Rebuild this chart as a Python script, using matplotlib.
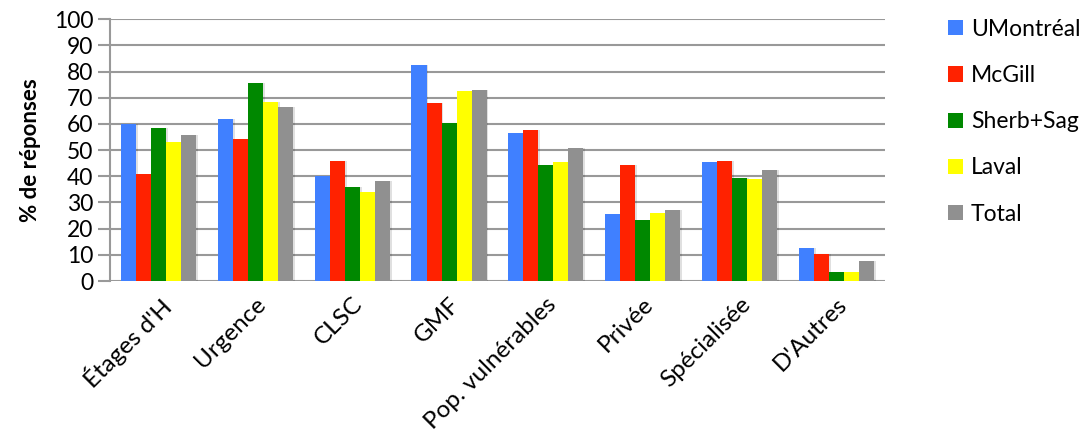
import matplotlib.pyplot as plt
import numpy as np

# Catégories et séries (% de réponses)
categories = ["Étages d'H", "Urgence", "CLSC", "GMF", "Pop. vulnérables",
              "Privée", "Spécialisée", "D'Autres"]
series_names = ["UMontréal", "McGill", "Sherb+Sag", "Laval", "Total"]
umontreal = [60, 62, 40, 82.4, 56.4, 25.6, 45.5, 12.6]
mcgill = [40.7, 54.1, 45.8, 67.8, 57.6, 44.2, 45.8, 10.2]
sherb_sag = [58.5, 75.6, 36, 60.4, 44.2, 23.2, 39.4, 3.3]
laval = [52.9, 68.3, 34.1, 72.5, 45.5, 26.1, 38.9, 3.4]
total = [55.7, 66.3, 38.2, 72.8, 50.8, 27, 42.4, 7.6]

colors = ['#4080FF', '#FF2200', '#008800', '#FFFF00', '#909090']
values = [umontreal, mcgill, sherb_sag, laval, total]

plt.rcParams['font.family'] = ['Lato', 'DejaVu Sans']

fig = plt.figure(figsize=(10.92, 4.45), dpi=100)
ax = fig.add_axes([0.1007, 0.3685, 0.7097, 0.5885])

x = np.arange(len(categories))
w = 0.155
for i, (name, vals, c) in enumerate(zip(series_names, values, colors)):
    pos = x + (i - 2) * w
    # ombre légère
    ax.bar(pos + 0.02, vals, w, color='#000000', alpha=0.12, zorder=2, linewidth=0)
    ax.bar(pos, vals, w, color=c, label=name, zorder=3, linewidth=0)

ax.set_xlim(-0.5, len(categories) - 0.5)
ax.set_ylim(0, 100)
ax.set_yticks(range(0, 101, 10))
ax.yaxis.grid(True, color='#999999', linewidth=1.5, zorder=0)
ax.set_axisbelow(True)
for s in ['top', 'right', 'bottom']:
    ax.spines[s].set_visible(False)
ax.spines['left'].set_color('#999999')
ax.spines['left'].set_linewidth(1.5)
ax.tick_params(axis='y', length=9, width=1.5, color='#999999', labelsize=16.5, pad=3)
ax.tick_params(axis='x', length=0, labelsize=17.5, pad=9)
ax.set_xticks(x)
ax.set_xticklabels(categories, rotation=45, ha='right', rotation_mode='anchor')
ax.set_ylabel("% de réponses", fontsize=16, fontweight='bold', labelpad=9)

ax.legend(loc='upper left', bbox_to_anchor=(1.055, 1.08), frameon=False,
          fontsize=16.5, handlelength=0.65, handleheight=0.65, handletextpad=0.35,
          labelspacing=1.1)

fig.savefig('out.png', dpi=100)
